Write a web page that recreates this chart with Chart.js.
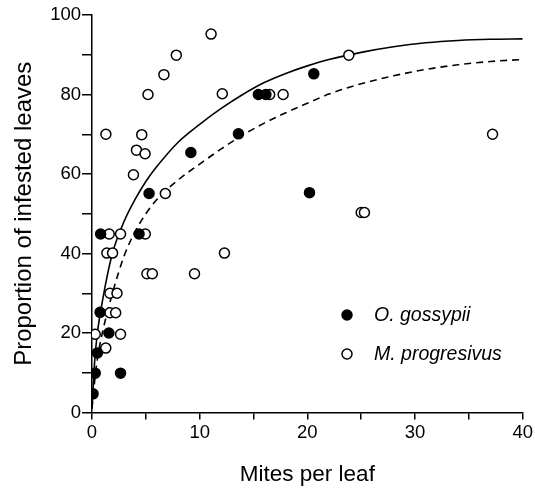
<!DOCTYPE html>
<html>
<head>
<meta charset="utf-8">
<script src="https://cdn.jsdelivr.net/npm/chart.js@4/dist/chart.umd.min.js"></script>
<style>
  html, body { margin: 0; padding: 0; background: #fff; }
  #wrap { width: 535px; height: 491px; }
</style>
</head>
<body>
<div id="wrap"><canvas id="mites"></canvas></div>
<script>
// O. gossypii (filled circles)
const gossypiiX = [0.1, 0.3, 0.5, 0.75, 0.8, 1.57, 2.65, 4.37, 5.3, 9.18, 13.6, 15.45, 16.15, 20.2, 20.6];
const gossypiiY = [4.7, 9.9, 15, 25.2, 44.9, 20, 9.9, 44.9, 55.1, 65.4, 70.1, 80, 80, 55.3, 85.2];

// M. progresivus (open circles)
const progresivusX = [0.3, 1.28, 1.29, 1.38, 1.6, 1.66, 1.66, 1.91, 2.2, 2.32, 2.65, 2.65, 3.85, 4.13, 4.62, 4.93,
  4.95, 5.1, 5.2, 5.6, 6.68, 6.81, 7.83, 9.52, 11.06, 12.1, 12.3, 16.5, 17.75, 23.85, 25.0, 25.3, 37.2];
const progresivusY = [19.7, 16.2, 70, 40.1, 44.9, 30, 25.1, 40.1, 25.1, 30, 44.9, 19.7, 59.8, 66, 69.9, 65.1,
  44.9, 34.9, 80, 34.9, 85, 55.1, 89.9, 34.9, 95.2, 80.2, 40.1, 80, 80, 89.9, 50.3, 50.3, 70];

// fitted curves
const curveX  = [0, 0.25, 0.5, 1, 1.5, 2, 3, 4, 5, 6, 8, 10, 12, 14, 16, 18, 20, 22, 25, 28, 31, 34, 37, 40];
const solidY  = [1, 13, 20, 28.5, 35.5, 41, 48.2, 53.6, 58.1, 61.8, 68, 72.5, 76.5, 80, 83, 85.3, 87.2, 88.8, 90.6, 92, 93, 93.6, 93.9, 94];
const dashedY = [1, 8, 13.5, 20.5, 26, 31, 39.5, 45.5, 50, 53.5, 58.5, 62.5, 66.3, 69.8, 72.8, 75.4, 77.8, 80.1, 82.7, 84.7, 86.3, 87.5, 88.3, 88.8];

const xTicks = [0, 10, 20, 30, 40];
const yTicks = [0, 20, 40, 60, 80, 100];

const pts = (xs, ys) => xs.map((x, i) => ({ x: x, y: ys[i] }));

const legendItems = [
  { label: 'O. gossypii', fill: '#000' },
  { label: 'M. progresivus', fill: '#fff' }
];

const insideLegend = {
  id: 'insideLegend',
  afterDraw(chart) {
    const ctx = chart.ctx;
    const a = chart.chartArea;
    ctx.save();
    ctx.font = 'italic 19.5px "Liberation Sans", Arial, sans-serif';
    ctx.textBaseline = 'middle';
    legendItems.forEach((it, i) => {
      const y = a.top + 300 + i * 39;
      ctx.beginPath();
      ctx.arc(a.left + 255, y, 5, 0, Math.PI * 2);
      ctx.fillStyle = it.fill;
      ctx.fill();
      ctx.lineWidth = 1.5;
      ctx.strokeStyle = '#000';
      ctx.stroke();
      ctx.fillStyle = '#000';
      ctx.fillText(it.label, a.left + 282, y + 1);
    });
    ctx.restore();
  }
};

const family = '"Liberation Sans", Arial, sans-serif';

new Chart(document.getElementById('mites'), {
  type: 'scatter',
  data: {
    datasets: [
      {
        label: 'O. gossypii',
        data: pts(gossypiiX, gossypiiY),
        backgroundColor: '#000',
        borderColor: '#000',
        borderWidth: 1.5,
        pointRadius: 5,
        order: 1
      },
      {
        label: 'M. progresivus',
        data: pts(progresivusX, progresivusY),
        backgroundColor: '#fff',
        borderColor: '#000',
        borderWidth: 1.5,
        pointRadius: 5,
        order: 2
      },
      {
        label: 'fit solid',
        data: pts(curveX, solidY),
        showLine: true,
        borderColor: '#000',
        borderWidth: 1.6,
        pointRadius: 0,
        cubicInterpolationMode: 'monotone',
        order: 3
      },
      {
        label: 'fit dashed',
        data: pts(curveX, dashedY),
        showLine: true,
        borderColor: '#000',
        borderWidth: 1.6,
        borderDash: [7, 5],
        pointRadius: 0,
        cubicInterpolationMode: 'monotone',
        order: 4
      }
    ]
  },
  options: {
    responsive: true,
    maintainAspectRatio: false,
    animation: false,
    layout: { padding: { top: 15, right: 10, left: 0, bottom: 0 } },
    plugins: {
      legend: { display: false },
      tooltip: { enabled: false }
    },
    scales: {
      x: {
        type: 'linear',
        min: 0,
        max: 40,
        afterFit: (s) => { s.height = 78.5; },
        ticks: {
          stepSize: 5,
          color: '#000',
          font: { family: family, size: 18.5 },
          padding: 2,
          maxRotation: 0,
          callback: (v) => (xTicks.includes(v) ? String(v) : '')
        },
        grid: { drawOnChartArea: false, drawTicks: true, tickLength: 7, color: '#000', lineWidth: 1.5 },
        border: { color: '#000', width: 1.5 },
        title: {
          display: true,
          text: 'Mites per leaf',
          color: '#000',
          font: { family: family, size: 22.5 },
          padding: { top: 0, bottom: 3 }
        }
      },
      y: {
        type: 'linear',
        min: 0,
        max: 100,
        afterFit: (s) => { s.width = 92; },
        ticks: {
          stepSize: 10,
          color: '#000',
          font: { family: family, size: 18.5 },
          padding: 1,
          callback: (v) => (yTicks.includes(v) ? String(v) : '')
        },
        grid: { drawOnChartArea: false, drawTicks: true, tickLength: 10, color: '#000', lineWidth: 1.5 },
        border: { color: '#000', width: 1.5 },
        title: {
          display: true,
          text: 'Proportion of infested leaves',
          color: '#000',
          font: { family: family, size: 24 },
          padding: { top: 10, bottom: 0 }
        }
      }
    }
  },
  plugins: [insideLegend]
});
</script>
</body>
</html>
